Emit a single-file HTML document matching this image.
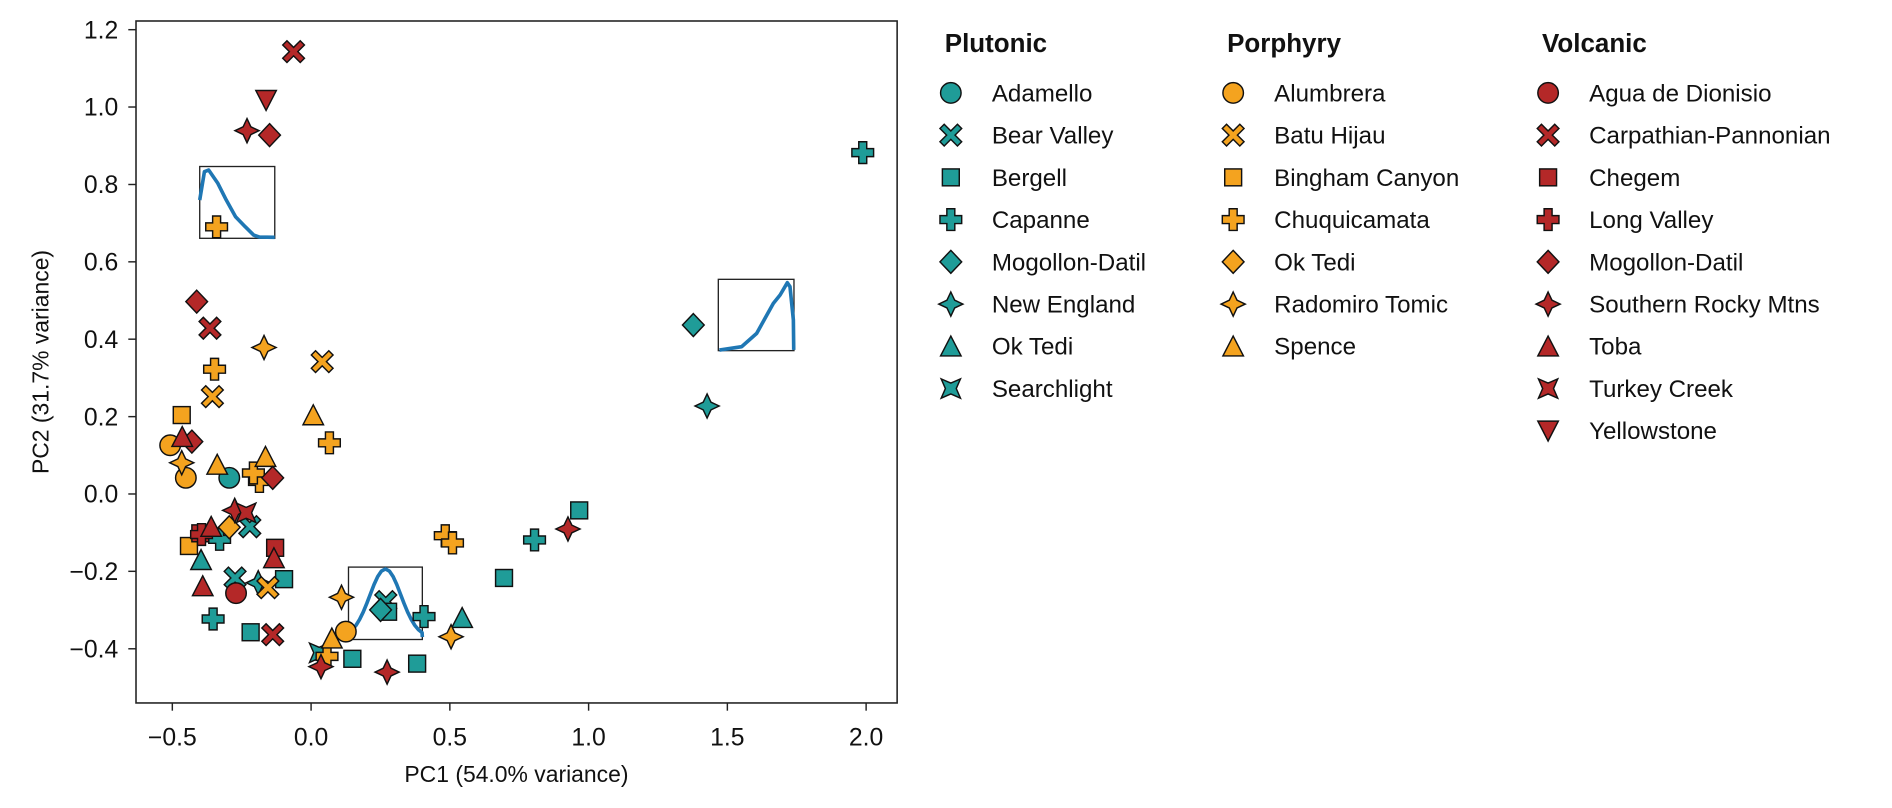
<!DOCTYPE html>
<html><head><meta charset="utf-8"><style>
html,body{margin:0;padding:0;background:#fff;}
svg{display:block;}
text{font-family:"Liberation Sans",Arial,sans-serif;fill:#111;}
</style></head><body>
<svg width="1892" height="808" viewBox="0 0 1568 669.65" xmlns="http://www.w3.org/2000/svg">
<defs>
<circle id="c" r="8.5" stroke="#111" stroke-width="1.2"/>
<path id="x" d="M-9,-5.5L-5.5,-9L0,-3.5L5.5,-9L9,-5.5L3.5,0L9,5.5L5.5,9L0,3.5L-5.5,9L-9,5.5L-3.5,0Z" stroke="#111" stroke-width="1.2"/>
<rect id="s" x="-7" y="-7" width="14" height="14" stroke="#111" stroke-width="1.2"/>
<path id="p" d="M-3.3,-9H3.3V-3.3H9V3.3H3.3V9H-3.3V3.3H-9V-3.3H-3.3Z" stroke="#111" stroke-width="1.2"/>
<path id="d" d="M0,-9.5L9,0L0,9.5L-9,0Z" stroke="#111" stroke-width="1.2"/>
<path id="t" d="M0,-10L3.2,-3.2L10,0L3.2,3.2L0,10L-3.2,3.2L-10,0L-3.2,-3.2Z" stroke="#111" stroke-width="1.2"/>
<path id="u" d="M0,-8.5L8.5,8L-8.5,8Z" stroke="#111" stroke-width="1.2"/>
<path id="v" d="M0,8.5L8.5,-8L-8.5,-8Z" stroke="#111" stroke-width="1.2"/>
<path id="q" d="M-8,-8L0,-4.5L8,-8L4.5,0L8,8L0,4.5L-8,8L-4.5,0Z" stroke="#111" stroke-width="1.2"/>
</defs>

<rect x="112.7" y="17.4" width="630.8" height="565.2" fill="none" stroke="#222" stroke-width="1.3"/>
<g stroke="#222" stroke-width="1.2">
<line x1="142.8" y1="582.6" x2="142.8" y2="589"/>
<line x1="257.8" y1="582.6" x2="257.8" y2="589"/>
<line x1="372.8" y1="582.6" x2="372.8" y2="589"/>
<line x1="487.8" y1="582.6" x2="487.8" y2="589"/>
<line x1="602.8" y1="582.6" x2="602.8" y2="589"/>
<line x1="717.8" y1="582.6" x2="717.8" y2="589"/>
<line x1="106.3" y1="24.6" x2="112.7" y2="24.6"/>
<line x1="106.3" y1="88.7" x2="112.7" y2="88.7"/>
<line x1="106.3" y1="152.9" x2="112.7" y2="152.9"/>
<line x1="106.3" y1="217" x2="112.7" y2="217"/>
<line x1="106.3" y1="281.1" x2="112.7" y2="281.1"/>
<line x1="106.3" y1="345.3" x2="112.7" y2="345.3"/>
<line x1="106.3" y1="409.4" x2="112.7" y2="409.4"/>
<line x1="106.3" y1="473.5" x2="112.7" y2="473.5"/>
<line x1="106.3" y1="537.7" x2="112.7" y2="537.7"/>
</g>
<g font-size="20.5" text-anchor="middle">
<text x="142.8" y="618">−0.5</text>
<text x="257.8" y="618">0.0</text>
<text x="372.8" y="618">0.5</text>
<text x="487.8" y="618">1.0</text>
<text x="602.8" y="618">1.5</text>
<text x="717.8" y="618">2.0</text>
</g>
<g font-size="20.5" text-anchor="end">
<text x="98" y="31.8">1.2</text>
<text x="98" y="95.9">1.0</text>
<text x="98" y="160.1">0.8</text>
<text x="98" y="224.2">0.6</text>
<text x="98" y="288.3">0.4</text>
<text x="98" y="352.5">0.2</text>
<text x="98" y="416.6">0.0</text>
<text x="98" y="480.7">−0.2</text>
<text x="98" y="544.9">−0.4</text>
</g>
<text x="428" y="648" font-size="19" text-anchor="middle">PC1 (54.0% variance)</text>
<text transform="translate(40,300) rotate(-90)" font-size="19" text-anchor="middle">PC2 (31.7% variance)</text>

<g fill="none" stroke="#222" stroke-width="1.1">
<rect x="165.5" y="138" width="62.2" height="59.5"/>
<rect x="288.8" y="470" width="61.2" height="60"/>
<rect x="595.3" y="231.5" width="62.7" height="59.1"/>
</g>
<g fill="none" stroke="#1f77b4" stroke-width="3" stroke-linejoin="round">
<polyline points="165.5,165.8 169.4,142.3 172.9,140.9 180.5,151.9 187.5,165.8 195.2,179.6 203.2,187.9 210.2,194.8 215,196.5 227.7,196.7"/>
<polyline points="288.8,528 289,524.3 292,521.9 295,518.3 298,513.4 301,507.3 304,500 307,492.2 310,484.4 313,477.9 316,473.4 319.4,471.5 322.8,473.4 325.8,477.9 328.8,484.4 331.8,492.2 334.8,500 337.8,507.3 340.8,513.4 343.8,518.3 346.8,521.9 349.8,524.3 350,528"/>
<polyline points="596.2,290.1 614.7,287.3 627.1,276.3 640.9,251.4 646.5,244.5 652.5,234.3 654.7,237.6 657.5,265.2 657.8,290"/>
</g>

<g fill="#1f9c98">
<use href="#c" x="190" y="396"/>
<use href="#x" x="207" y="436.5"/><use href="#x" x="194.8" y="479"/><use href="#x" x="319.7" y="498.6"/>
<use href="#s" x="235.4" y="480"/><use href="#s" x="207.7" y="524"/><use href="#s" x="321.6" y="507"/><use href="#s" x="417.7" y="479"/><use href="#s" x="480" y="423"/><use href="#s" x="292" y="546"/><use href="#s" x="345.7" y="550"/>
<use href="#p" x="715" y="126.5"/><use href="#p" x="443" y="447.5"/><use href="#p" x="176.6" y="513"/><use href="#p" x="182" y="447"/><use href="#p" x="351.4" y="511"/>
<use href="#d" x="574.6" y="269.4"/><use href="#d" x="315.4" y="505.5"/>
<use href="#t" x="586" y="336.5"/><use href="#t" x="214" y="483"/>
<use href="#u" x="166.6" y="464"/><use href="#u" x="383" y="512"/>
<use href="#q" x="264.5" y="541"/>
</g>
<g fill="#f4a31f">
<use href="#c" x="141" y="369"/><use href="#c" x="154" y="396"/><use href="#c" x="286.6" y="523.5"/>
<use href="#x" x="267" y="299.7"/><use href="#x" x="176" y="328.7"/><use href="#x" x="222" y="487"/>
<use href="#s" x="150.6" y="344"/><use href="#s" x="156.6" y="452.5"/>
<use href="#p" x="179.5" y="188"/><use href="#p" x="177.8" y="306"/><use href="#p" x="273" y="367"/><use href="#p" x="215" y="399"/><use href="#p" x="210" y="392"/><use href="#p" x="369" y="444"/><use href="#p" x="375" y="450"/><use href="#p" x="271" y="544"/>
<use href="#d" x="190" y="437"/>
<use href="#t" x="218.8" y="288"/><use href="#t" x="150.6" y="383.5"/><use href="#t" x="283" y="495"/><use href="#t" x="373.8" y="527.7"/>
<use href="#u" x="259.6" y="344"/><use href="#u" x="180" y="385"/><use href="#u" x="220" y="378.5"/><use href="#u" x="275" y="529"/>
</g>
<g fill="#b42828">
<use href="#c" x="195.6" y="491.6"/>
<use href="#x" x="243.3" y="42.8"/><use href="#x" x="174" y="272"/><use href="#x" x="226" y="526"/>
<use href="#s" x="166" y="442"/><use href="#s" x="228" y="454"/>
<use href="#p" x="167" y="443"/>
<use href="#d" x="223.4" y="112"/><use href="#d" x="163" y="250"/><use href="#d" x="159" y="366"/><use href="#d" x="226" y="396"/>
<use href="#t" x="204.7" y="108.3"/><use href="#t" x="470.7" y="438.4"/><use href="#t" x="320.8" y="557"/><use href="#t" x="266" y="552.5"/><use href="#t" x="194.5" y="423"/>
<use href="#q" x="204" y="425"/>
<use href="#u" x="151" y="362"/><use href="#u" x="175" y="436.5"/><use href="#u" x="168" y="485.7"/><use href="#u" x="227" y="462.5"/>
<use href="#v" x="220.5" y="83"/>
</g>

<g font-size="21.5" font-weight="bold">
<text x="783" y="43">Plutonic</text>
<text x="1017" y="43">Porphyry</text>
<text x="1278" y="43">Volcanic</text>
</g>
<g font-size="20">
<text x="822" y="84">Adamello</text><text x="822" y="119">Bear Valley</text><text x="822" y="154">Bergell</text><text x="822" y="189">Capanne</text><text x="822" y="224">Mogollon-Datil</text><text x="822" y="259">New England</text><text x="822" y="294">Ok Tedi</text><text x="822" y="329">Searchlight</text>
<text x="1056" y="84">Alumbrera</text><text x="1056" y="119">Batu Hijau</text><text x="1056" y="154">Bingham Canyon</text><text x="1056" y="189">Chuquicamata</text><text x="1056" y="224">Ok Tedi</text><text x="1056" y="259">Radomiro Tomic</text><text x="1056" y="294">Spence</text>
<text x="1317" y="84">Agua de Dionisio</text><text x="1317" y="119">Carpathian-Pannonian</text><text x="1317" y="154">Chegem</text><text x="1317" y="189">Long Valley</text><text x="1317" y="224">Mogollon-Datil</text><text x="1317" y="259">Southern Rocky Mtns</text><text x="1317" y="294">Toba</text><text x="1317" y="329">Turkey Creek</text><text x="1317" y="364">Yellowstone</text>
</g>
<g fill="#1f9c98">
<use href="#c" x="788" y="77"/><use href="#x" x="788" y="112"/><use href="#s" x="788" y="147"/><use href="#p" x="788" y="182"/><use href="#d" x="788" y="217"/><use href="#t" x="788" y="252"/><use href="#u" x="788" y="287"/><use href="#q" x="788" y="322"/>
</g>
<g fill="#f4a31f">
<use href="#c" x="1022" y="77"/><use href="#x" x="1022" y="112"/><use href="#s" x="1022" y="147"/><use href="#p" x="1022" y="182"/><use href="#d" x="1022" y="217"/><use href="#t" x="1022" y="252"/><use href="#u" x="1022" y="287"/>
</g>
<g fill="#b42828">
<use href="#c" x="1283" y="77"/><use href="#x" x="1283" y="112"/><use href="#s" x="1283" y="147"/><use href="#p" x="1283" y="182"/><use href="#d" x="1283" y="217"/><use href="#t" x="1283" y="252"/><use href="#u" x="1283" y="287"/><use href="#q" x="1283" y="322"/><use href="#v" x="1283" y="357"/>
</g>
</svg>
</body></html>
